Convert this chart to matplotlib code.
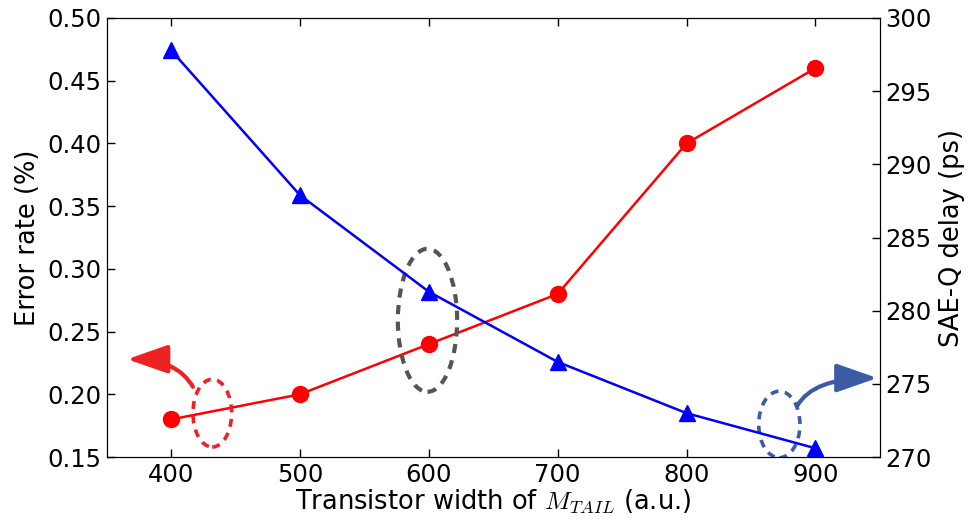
import matplotlib
matplotlib.use('Agg')
import matplotlib.pyplot as plt
from matplotlib.patches import Ellipse

# data
widths = [400, 500, 600, 700, 800, 900]
error_rate = [0.18, 0.20, 0.24, 0.28, 0.40, 0.46]
delay = [297.8, 287.9, 281.3, 276.5, 273.0, 270.6]

plt.rcParams['font.size'] = 17.5
plt.rcParams['mathtext.fontset'] = 'cm'

fig = plt.figure(figsize=(9.69, 5.29), dpi=100)
ax = fig.add_axes([0.110, 0.136, 0.798, 0.830])
ax2 = ax.twinx()

ax.plot(widths, error_rate, color='red', lw=1.8, marker='o', markersize=11.5, zorder=3)
ax2.plot(widths, delay, color='blue', lw=1.8, marker='^', markersize=11.5, zorder=3)

ax.set_xlim(350, 950)
ax.set_ylim(0.15, 0.50)
ax2.set_ylim(270, 300)
ax.set_xticks(widths)
ax.set_yticks([0.15, 0.20, 0.25, 0.30, 0.35, 0.40, 0.45, 0.50])
ax.set_yticklabels(['0.15', '0.20', '0.25', '0.30', '0.35', '0.40', '0.45', '0.50'])
ax2.set_yticks([270, 275, 280, 285, 290, 295, 300])

for a in (ax, ax2):
    a.tick_params(direction='in', length=6, width=1, pad=4)
ax.tick_params(axis='x', top=True)

ax.set_xlabel('Transistor width of $M_{TAIL}$ (a.u.)', fontsize=18.5, labelpad=1)
ax.set_ylabel('Error rate (%)', fontsize=18.5, labelpad=4)
ax2.set_ylabel('SAE-Q delay (ps)', fontsize=18.5, labelpad=5)

# dashed ellipses
ax.add_patch(Ellipse((432, 0.185), 30, 0.054, fill=False, ls=(0, (2.2, 1.8)),
                     lw=2.6, color='#ee2222', zorder=4))
ax.add_patch(Ellipse((599, 0.259), 46, 0.114, fill=False, ls=(0, (2.2, 1.8)),
                     lw=3.0, color='#555555', zorder=4))
ax.add_patch(Ellipse((872, 0.176), 32, 0.053, fill=False, ls=(0, (2.2, 1.8)),
                     lw=2.6, color='#3b5ba5', zorder=4))

# curved arrows
ax.annotate('', xy=(366, 0.228), xytext=(417, 0.206),
            arrowprops=dict(arrowstyle='-|>,head_length=1.0,head_width=0.35',
                            connectionstyle='angle3,angleA=120,angleB=0',
                            color='#ee2222', lw=3, mutation_scale=25,
                            shrinkA=0, shrinkB=0),
            annotation_clip=False)
ax.annotate('', xy=(948, 0.213), xytext=(886, 0.191),
            arrowprops=dict(arrowstyle='-|>,head_length=1.0,head_width=0.35',
                            connectionstyle='angle3,angleA=60,angleB=0',
                            color='#3b5ba5', lw=3, mutation_scale=25,
                            shrinkA=0, shrinkB=0),
            annotation_clip=False)

fig.savefig('out.png', dpi=100)
